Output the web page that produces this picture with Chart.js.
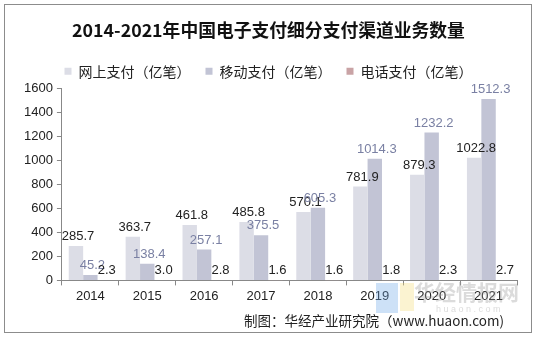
<!DOCTYPE html>
<html>
<head>
<meta charset="utf-8">
<script src="https://cdn.jsdelivr.net/npm/chart.js@4"></script>
<style>
  html, body { margin: 0; padding: 0; background: #fff; }
  canvas { display: block; }
</style>
</head>
<body>
<canvas id="chart" width="536" height="338"></canvas>
<script>
const years = ['2014', '2015', '2016', '2017', '2018', '2019', '2020', '2021'];
const online = [285.7, 363.7, 461.8, 485.8, 570.1, 781.9, 879.3, 1022.8];
const mobile = [45.2, 138.4, 257.1, 375.5, 605.3, 1014.3, 1232.2, 1512.3];
const phone = [2.3, 3.0, 2.8, 1.6, 1.6, 1.8, 2.3, 2.7];
const yTicks = [0, 200, 400, 600, 800, 1000, 1200, 1400, 1600];

const labelColors = ['#222', '#7a80a3', '#222'];

// 外框
const frame = {
  id: 'frame',
  beforeDraw(chart) {
    const ctx = chart.ctx;
    ctx.save();
    ctx.fillStyle = '#fff';
    ctx.fillRect(0, 0, chart.width, chart.height);
    ctx.strokeStyle = '#8c8c8c';
    ctx.lineWidth = 1;
    ctx.strokeRect(4.5, 4.5, 527, 328);
    ctx.restore();
  }
};

// 数值标签
const valueLabels = {
  id: 'valueLabels',
  afterDatasetsDraw(chart) {
    const ctx = chart.ctx;
    ctx.save();
    ctx.font = '13px "Liberation Sans", Arial, sans-serif';
    ctx.textAlign = 'center';
    ctx.textBaseline = 'bottom';
    chart.data.datasets.forEach((ds, i) => {
      const meta = chart.getDatasetMeta(i);
      ctx.fillStyle = labelColors[i];
      meta.data.forEach((bar, j) => {
        ctx.fillText(ds.data[j].toFixed(1), bar.x + 2, bar.y - 3);
      });
    });
    ctx.restore();
  }
};

// 来源与水印
const footer = {
  id: 'footer',
  afterDraw(chart) {
    const ctx = chart.ctx;
    ctx.save();
    ctx.globalAlpha = 0.35;
    ctx.fillStyle = '#6fa8e8';
    ctx.fillRect(376, 283, 22, 30);
    ctx.fillStyle = '#f3dc7a';
    ctx.fillRect(400, 283, 14, 28);
    ctx.fillStyle = '#999';
    ctx.font = 'bold 21px "Noto Sans CJK SC", sans-serif';
    ctx.textAlign = 'left';
    ctx.textBaseline = 'middle';
    ctx.fillText('华经情报网', 414, 292);
    ctx.font = '9px "Liberation Sans", sans-serif';
    ctx.fillText('h u a o n . c o m', 436, 310);
    ctx.restore();
    ctx.save();
    ctx.fillStyle = '#222';
    ctx.font = '13.5px "Noto Sans CJK SC", sans-serif';
    ctx.textAlign = 'right';
    ctx.textBaseline = 'middle';
    ctx.fillText('制图：华经产业研究院（www.huaon.com)', 504, 321);
    ctx.restore();
  }
};

new Chart(document.getElementById('chart'), {
  type: 'bar',
  data: {
    labels: years,
    datasets: [
      { label: '网上支付（亿笔）', data: online, backgroundColor: '#dcdde6' },
      { label: '移动支付（亿笔）', data: mobile, backgroundColor: '#c2c4d5' },
      { label: '电话支付（亿笔）', data: phone, backgroundColor: '#c9a3a5' }
    ]
  },
  options: {
    responsive: false,
    animation: false,
    layout: { padding: { left: 20, right: 19, top: 20, bottom: 31 } },
    datasets: { bar: { categoryPercentage: 0.76, barPercentage: 1 } },
    plugins: {
      title: {
        display: true,
        text: '2014-2021年中国电子支付细分支付渠道业务数量',
        color: '#111',
        font: { family: '"Noto Sans CJK SC", serif', size: 17.8, weight: 'bold' },
        padding: { top: 0, bottom: 8 }
      },
      legend: {
        labels: {
          color: '#222',
          font: { family: '"Noto Sans CJK SC", sans-serif', size: 14 },
          boxWidth: 7,
          boxHeight: 7,
          padding: 15
        }
      },
      tooltip: { enabled: false }
    },
    scales: {
      x: {
        grid: { drawOnChartArea: false, color: '#888', tickLength: 5, offset: true },
        border: { color: '#888' },
        ticks: { color: '#222', font: { family: '"Liberation Sans", Arial', size: 13 }, padding: 3 }
      },
      y: {
        min: 0,
        max: 1600,
        afterBuildTicks(axis) { axis.ticks = yTicks.map(v => ({ value: v })); },
        grid: { drawOnChartArea: false, color: '#888', tickLength: 5 },
        border: { color: '#888' },
        ticks: {
          color: '#222',
          font: { family: '"Liberation Sans", Arial', size: 13 },
          padding: 4,
          callback: v => String(v)
        }
      }
    }
  },
  plugins: [frame, valueLabels, footer]
});
</script>
</body>
</html>
